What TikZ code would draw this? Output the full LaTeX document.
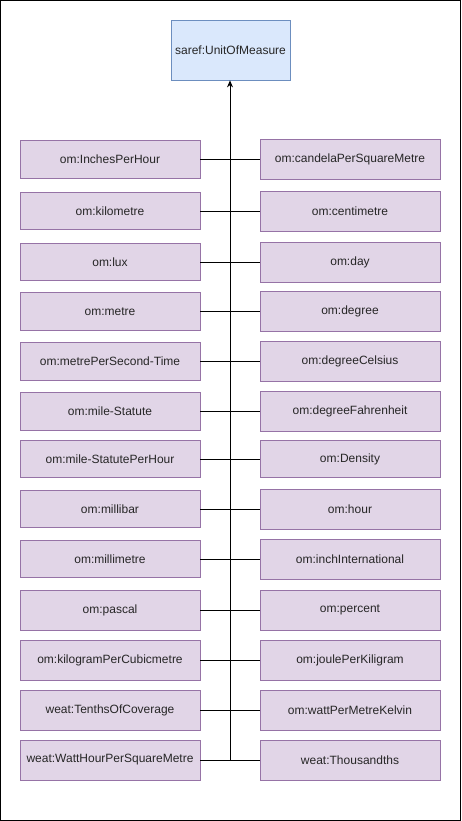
\documentclass[tikz,border=0pt]{standalone}
\usepackage{fontspec}
\setmainfont{Liberation Sans}
\usetikzlibrary{positioning,arrows.meta}
\definecolor{unitfill}{HTML}{E1D5E7}
\definecolor{unitline}{HTML}{9673A6}
\definecolor{rootfill}{HTML}{DAE8FC}
\definecolor{rootline}{HTML}{6C8EBF}

\begin{document}
\begin{tikzpicture}[
  x=1pt, y=-1pt,
  unit/.style={draw=unitline, fill=unitfill, line width=0.8pt,
               minimum width=180pt, minimum height=40pt, inner sep=0pt,
               font=\fontsize{12}{14}\selectfont, text=black!85},
  short/.style={minimum height=37.5pt},
  root/.style={unit, draw=rootline, fill=rootfill, minimum width=119pt, minimum height=60pt},
  link/.style={draw, line width=0.8pt},
]
  \useasboundingbox (0,0) rectangle (461,821);
  \draw[line width=1.4pt] (0.7,0.7) rectangle (460.3,820.3);

  \node[root] (uom) at (230.5,50) {saref:UnitOfMeasure};

  % Left column
  \node[unit, short] (inch)   at (110,159.5) {om:InchesPerHour};
  \node[unit, short] (km)     at (110,211)   {om:kilometre};
  \node[unit, short] (lux)    at (110,262)   {om:lux};
  \node[unit, short] (metre)  at (110,311.5) {om:metre};
  \node[unit, short] (mps)    at (110,361.5) {om:metrePerSecond-Time};
  \node[unit, short] (mile)   at (110,411.5) {om:mile-Statute};
  \node[unit, short] (mph)    at (110,459)   {om:mile-StatutePerHour};
  \node[unit, short] (mbar)   at (110,509)   {om:millibar};
  \node[unit, short] (mm)     at (110,559)   {om:millimetre};
  \node[unit] (pascal) at (110,610) {om:pascal};
  \node[unit] (kgm)    at (110,660) {om:kilogramPerCubicmetre};
  \node[unit] (tenths) at (110,710) {weat:TenthsOfCoverage};
  \node[unit] (whm)    at (110,760) {weat:WattHourPerSquareMetre};

  % Right column
  \node[unit] (cdm)     at (350,159.5) {om:candelaPerSquareMetre};
  \node[unit] (cm)      at (350,211)   {om:centimetre};
  \node[unit] (day)     at (350,262)   {om:day};
  \node[unit] (degree)  at (350,311.5) {om:degree};
  \node[unit] (celsius) at (350,361.5) {om:degreeCelsius};
  \node[unit] (fahr)    at (350,411.5) {om:degreeFahrenheit};
  \node[unit, short] (density) at (350,459) {om:Density};
  \node[unit] (hour)    at (350,509) {om:hour};
  \node[unit] (inchint) at (350,559) {om:inchInternational};
  \node[unit] (percent) at (350,610) {om:percent};
  \node[unit] (jkg)     at (350,660) {om:joulePerKiligram};
  \node[unit] (wmk)     at (350,710) {om:wattPerMetreKelvin};
  \node[unit] (thous)   at (350,760) {weat:Thousandths};

  % Trunk to the root
  \coordinate (trunk) at (230,760);
  \draw[link, -{Stealth[length=7pt,width=6pt]}] (trunk) -- (trunk |- uom.south);

  % Branches
  \path[link] (inch) -- (cdm);
  \path[link] (km) -- (cm);
  \path[link] (lux) -- (day);
  \path[link] (metre) -- (degree);
  \path[link] (mps) -- (celsius);
  \path[link] (mile) -- (fahr);
  \path[link] (mph) -- (density);
  \path[link] (mbar) -- (hour);
  \path[link] (mm) -- (inchint);
  \path[link] (pascal) -- (percent);
  \path[link] (kgm) -- (jkg);
  \path[link] (tenths) -- (wmk);
  \path[link] (whm) -- (thous);
\end{tikzpicture}
\end{document}
